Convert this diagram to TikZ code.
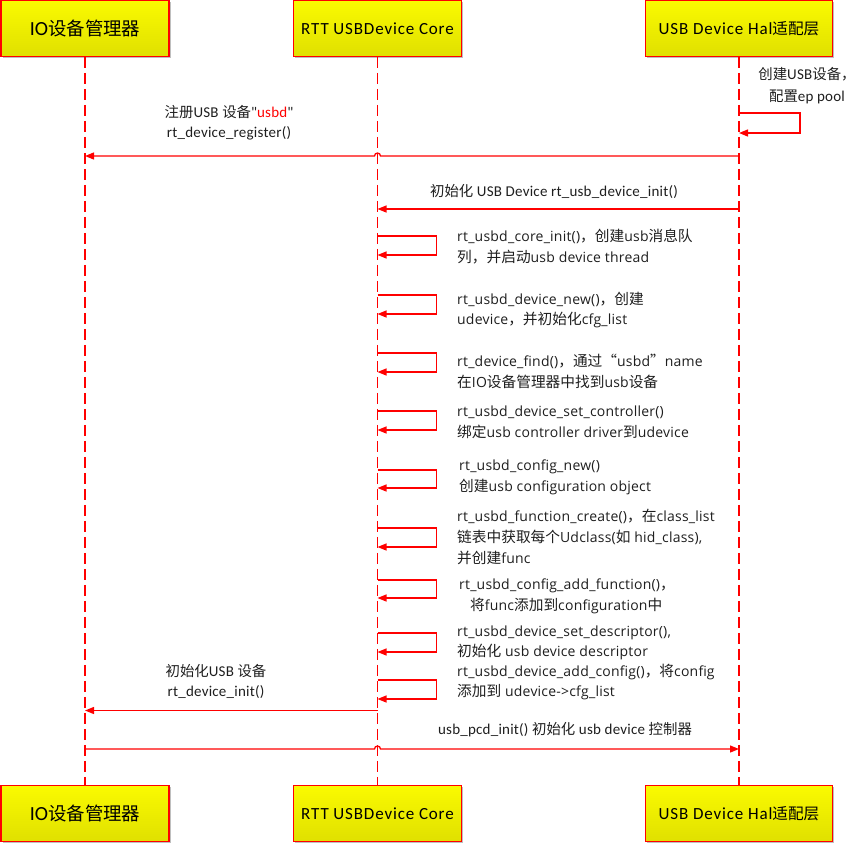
\documentclass[tikz,border=0pt]{standalone}
\usepackage{fontspec}
\setmainfont{Carlito}
\newfontfamily\labLat{Carlito}[LetterSpace=1.5]
\newfontfamily\boxLat{Carlito}[LetterSpace=5]
\newfontfamily\ioLat{Carlito}[LetterSpace=1]
\newfontfamily\loopLat{Open Sans}[LetterSpace=1.5]
\newfontfamily\cjkLab{Noto Sans CJK SC}[Scale=0.96]
\newfontfamily\cjkLoop{Noto Sans CJK SC}[Scale=1.05]
\newfontfamily\cjkBox{Noto Sans CJK SC}[Scale=0.92]
\newfontfamily\cjkIO{Noto Sans CJK SC}[Scale=0.92]
\def\curlat{\labLat}\def\curcjk{\cjkLab}
\newXeTeXintercharclass\CJKcls
\newcount\cjkcnt
\cjkcnt="4E00
\loop
  \XeTeXcharclass\cjkcnt=\CJKcls
  \ifnum\cjkcnt<"9FFF \advance\cjkcnt by 1
\repeat
\XeTeXcharclass"FF0C=\CJKcls
\XeTeXcharclass"3001=\CJKcls
\XeTeXcharclass"201C=\CJKcls
\XeTeXcharclass"201D=\CJKcls
\XeTeXinterchartoks 0 \CJKcls={\curcjk}
\XeTeXinterchartoks 4095 \CJKcls={\curcjk}
\XeTeXinterchartoks \CJKcls 0={\curlat}
\XeTeXinterchartoks \CJKcls 4095={\curlat}
\XeTeXinterchartokenstate=1
\usetikzlibrary{arrows.meta,shadows,calc}
\definecolor{lred}{HTML}{FF0000}
\definecolor{ytop}{HTML}{FAFA00}
\definecolor{ybot}{HTML}{E0E000}
\definecolor{txt}{HTML}{1E1E1E}
\newcommand\boxfont{\def\curlat{\boxLat}\def\curcjk{\cjkBox}\fontsize{17}{18}\selectfont\boxLat}
\newcommand\iofont{\def\curlat{\ioLat}\def\curcjk{\cjkIO}\fontsize{20}{22}\selectfont\ioLat}
\newcommand\labfont{\def\curlat{\labLat}\def\curcjk{\cjkLab}\fontsize{15}{20}\selectfont\labLat}
\newcommand\halfont{\def\curlat{\labLat}\def\curcjk{\cjkLab}\fontsize{15}{22}\selectfont\labLat}
\newcommand\loopfont{\def\curlat{\loopLat}\def\curcjk{\cjkLoop}\fontsize{14}{20.7}\selectfont\loopLat}
\tikzset{
  actor/.style={draw=lred, line width=1.2pt, top color=ytop, bottom color=ybot,
    minimum height=55.5pt, inner sep=0pt, font=\boxfont, text=black,
    drop shadow={shadow xshift=1.5pt, shadow yshift=-1.5pt, fill=black, opacity=0.25}},
  life/.style={draw=lred, line width=1.3pt, dash pattern=on 11pt off 5pt},
  msg/.style={draw=lred, line width=1.3pt, -{Triangle[length=9pt,width=7pt]}},
  lab/.style={font=\labfont, text=txt, align=center, inner sep=0pt},
  looptxt/.style={font=\loopfont, text=txt, align=left, inner sep=0pt, anchor=west},
}
\begin{document}
\begin{tikzpicture}[x=1pt,y=-1pt]
\useasboundingbox (0,0) rectangle (865,844);
% actors
\node[actor, minimum width=168pt, font=\iofont] (io) at (85,28.5) {IO设备管理器};
\node[actor, minimum width=168pt] (core) at (377.5,28.5) {RTT USBDevice Core};
\node[actor, minimum width=187pt] (hal) at (739,28.5) {USB Device Hal适配层};
\node[actor, minimum width=168pt, font=\iofont] (io2) at (85,813.5) {IO设备管理器};
\node[actor, minimum width=168pt] (core2) at (377.5,813.5) {RTT USBDevice Core};
\node[actor, minimum width=187pt] (hal2) at (739,813.5) {USB Device Hal适配层};
% lifelines
\draw[life] (io.south) -- (io2.north);
\draw[life] (core.south) -- (core2.north);
\draw[life] (hal.south) -- (hal2.north);
% hal self loop
\draw[msg] (hal.south |- 0,113) -- ++(61,0) |- (hal.south |- 0,133);
\node[lab, font=\halfont] (t0) at (807,86) {创建USB设备，\\配置ep pool};
% register
\draw[msg] (hal.south |- 0,156) -- ($(core.south |- 0,156)+(3pt,0)$) arc[start angle=0,end angle=180,radius=3pt] -- (io.south |- 0,156);
\node[lab] (t1) at (229,123) {注册USB 设备"\textcolor{lred}{usbd}"\\rt\_device\_register()};
% init usb device
\draw[msg] (hal.south |- 0,209) -- (core.south |- 0,209);
\node[lab] (t2) at (554,191) {初始化 USB Device rt\_usb\_device\_init()};
% self loops on core
\foreach \t/\b in {236/255, 295/314, 353/372, 411/430, 470/488, 528/547, 580/598, 633/652, 680/699}{
  \draw[msg] (core.south |- 0,\t) -- ++(59,0) |- (core.south |- 0,\b);
}
\node[looptxt] (s1) at (457,246.4) {rt\_usbd\_core\_init()，创建usb消息队\\列，并启动usb device thread};
\node[looptxt] (s2) at (457,310) {rt\_usbd\_device\_new()，创建\\udevice，并初始化cfg\_list};
\node[looptxt] (s3) at (457,371.7) {rt\_device\_find()，通过“usbd”name\\在IO设备管理器中找到usb设备};
\node[looptxt] (s4) at (457,422.3) {rt\_usbd\_device\_set\_controller()\\绑定usb controller driver到udevice};
\node[looptxt] (s5) at (459,477.5) {rt\_usbd\_config\_new()\\创建usb configuration object};
\node[looptxt] (s6) at (457,536.8) {rt\_usbd\_function\_create()，在class\_list\\链表中获取每个Udclass(如 hid\_class),\\并创建func};
\node[looptxt] (s7) at (459,596) {rt\_usbd\_config\_add\_function()，\\\hspace*{11pt}将func添加到configuration中};
\node[looptxt] (s8) at (457,642.8) {rt\_usbd\_device\_set\_descriptor(),\\初始化 usb device descriptor};
\node[looptxt] (s9) at (457,682) {rt\_usbd\_device\_add\_config()，将config\\添加到 udevice->cfg\_list};
% init device
\draw[msg] (core.south |- 0,710.5) -- (io.south |- 0,710.5);
\node[lab] (t3) at (216,681) {初始化USB 设备\\rt\_device\_init()};
% pcd init
\draw[msg] (io.south |- 0,749) -- ($(core.south |- 0,749)+(-3pt,0)$) arc[start angle=180,end angle=0,radius=3pt] -- (hal.south |- 0,749);
\node[lab] (t4) at (565,730) {usb\_pcd\_init() 初始化 usb device 控制器};
\end{tikzpicture}
\end{document}
